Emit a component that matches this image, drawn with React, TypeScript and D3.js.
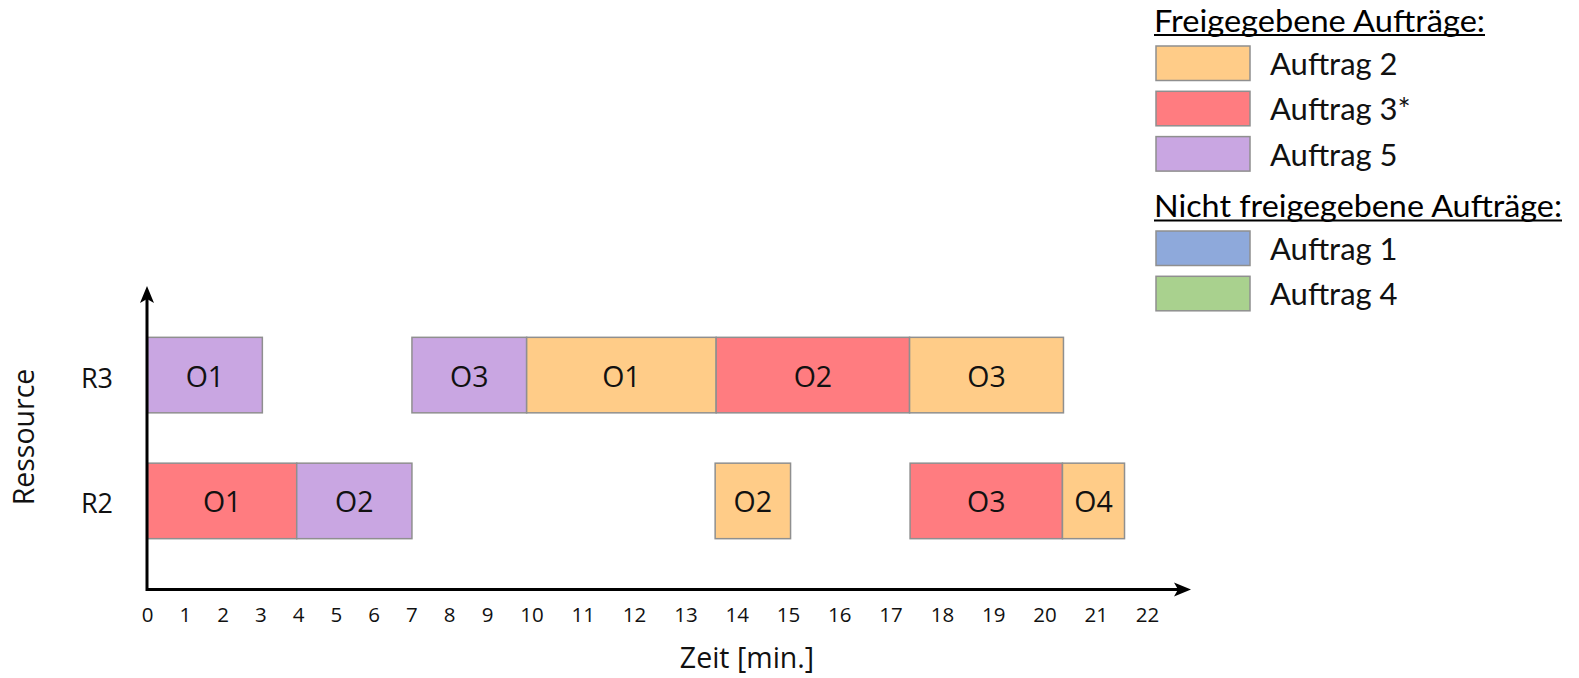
import React from "react";
import * as d3 from "d3";

// Schedule data: one entry per operation block
const resources = ["R3", "R2"];
const taskResource = ["R3", "R3", "R3", "R3", "R3", "R2", "R2", "R2", "R2", "R2"];
const taskLabel = ["O1", "O3", "O1", "O2", "O3", "O1", "O2", "O2", "O3", "O4"];
const taskOrder = [5, 5, 2, 3, 2, 3, 5, 2, 3, 2];
const taskStart = [0, 7, 9.88, 13.59, 17.36, 0, 3.95, 13.57, 17.37, 20.34];
const taskEnd = [3.04, 9.88, 13.59, 17.36, 20.36, 3.95, 7.0, 15.04, 20.34, 21.55];

// Time tick labels
const timeTicks = d3.range(0, 23);

// Legend
const releasedOrders = [2, 3, 5];
const releasedNames = ["Auftrag 2", "Auftrag 3*", "Auftrag 5"];
const pendingOrders = [1, 4];
const pendingNames = ["Auftrag 1", "Auftrag 4"];
const orderIds = [1, 2, 3, 4, 5];
const orderColors = ["#8EA9DB", "#FFCC88", "#FF7C80", "#A9D18E", "#C9A6E2"];

const W = 1579;
const H = 678;
const axisX = 147;
const axisY = 589.5;

const labelFont = "'Open Sans', 'Noto Sans', sans-serif";
const legendFont = "Lato, 'Open Sans', sans-serif";

export default function App() {
  // Tick labels are spaced wider for two-digit numbers, so the time scale is piecewise linear.
  const x = d3.scaleLinear().domain([0, 9, 10, 22]).range([147.5, 487.5, 532, 1147.6]);
  const y = d3.scaleBand<string>().domain(resources).range([287, 589]).paddingInner(0.4).paddingOuter(0.4);
  const color = d3.scaleOrdinal<number, string>().domain(orderIds).range(orderColors);

  const tasks = taskLabel.map((label, i) => ({
    label,
    res: taskResource[i],
    order: taskOrder[i],
    start: taskStart[i],
    end: taskEnd[i],
  }));

  const swatchX = 1156;
  const swatchW = 94;
  const swatchH = 34.5;
  const textX = 1270;
  const rowPitch = 45.3;
  const group1Top = 46;
  const group2Top = 231;

  const arrowRight = `M1191,${axisY} L1174,${axisY - 7} L1178,${axisY} L1174,${axisY + 7} Z`;
  const arrowUp = `M${axisX},286 L${axisX - 7},303 L${axisX},299 L${axisX + 7},303 Z`;

  return (
    <svg
      width={W}
      height={H}
      viewBox={`0 0 ${W} ${H}`}
      style={{ position: "absolute", left: 0, top: 0, background: "#fff" }}
    >
      {/* bars */}
      {tasks.map((t, i) => (
        <g key={i}>
          <rect
            x={x(t.start)}
            y={y(t.res)!}
            width={x(t.end) - x(t.start)}
            height={y.bandwidth()}
            fill={color(t.order)}
            stroke="#8f8f8f"
            strokeWidth={1.5}
          />
          <text
            x={(x(t.start) + x(t.end)) / 2}
            y={y(t.res)! + y.bandwidth() / 2 + 1.5}
            dy="0.35em"
            textAnchor="middle"
            fontFamily={labelFont}
            fontWeight={400}
            fontSize={28.5}
            fill="#111"
          >
            {t.label}
          </text>
        </g>
      ))}

      {/* axes */}
      <line x1={axisX} y1={axisY} x2={1180} y2={axisY} stroke="#000" strokeWidth={3} />
      <line x1={axisX} y1={axisY + 1.5} x2={axisX} y2={297} stroke="#000" strokeWidth={3} />
      <path d={arrowRight} fill="#000" />
      <path d={arrowUp} fill="#000" />

      {/* time ticks */}
      {timeTicks.map((v) => (
        <text
          key={v}
          x={x(v)}
          y={622}
          textAnchor="middle"
          fontFamily={labelFont}
          fontWeight={400}
          fontSize={20.5}
          fill="#111"
        >
          {v}
        </text>
      ))}

      {/* resource labels */}
      {resources.map((r) => (
        <text
          key={r}
          x={97}
          y={y(r)! + y.bandwidth() / 2 + 3}
          dy="0.35em"
          textAnchor="middle"
          fontFamily={labelFont}
          fontWeight={400}
          fontSize={27}
          fill="#111"
        >
          {r}
        </text>
      ))}

      <text
        x={747}
        y={668}
        textAnchor="middle"
        fontFamily={labelFont}
        fontWeight={400}
        fontSize={28.5}
        fill="#111"
      >
        Zeit [min.]
      </text>
      <text
        transform="translate(34,437) rotate(-90)"
        textAnchor="middle"
        fontFamily={labelFont}
        fontWeight={400}
        fontSize={28.5}
        fill="#111"
      >
        Ressource
      </text>

      {/* legend */}
      <text x={1154} y={31.5} fontFamily={legendFont} fontSize={31} fill="#000" textLength={331} lengthAdjust="spacingAndGlyphs">
        Freigegebene Aufträge:
      </text>
      <line x1={1154} x2={1485} y1={35} y2={35} stroke="#000" strokeWidth={2} />
      {releasedOrders.map((o, i) => (
        <g key={o}>
          <rect
            x={swatchX}
            y={group1Top + i * rowPitch}
            width={swatchW}
            height={swatchH}
            fill={color(o)}
            stroke="#8f8f8f"
            strokeWidth={1.5}
          />
          <text
            x={textX}
            y={group1Top + i * rowPitch + 29}
            fontFamily={legendFont}
            fontWeight={400}
            fontSize={31}
            fill="#111"
          >
            {releasedNames[i]}
          </text>
        </g>
      ))}

      <text x={1154} y={216.5} fontFamily={legendFont} fontSize={31} fill="#000" textLength={408} lengthAdjust="spacingAndGlyphs">
        Nicht freigegebene Aufträge:
      </text>
      <line x1={1154} x2={1562} y1={220.5} y2={220.5} stroke="#000" strokeWidth={2} />
      {pendingOrders.map((o, i) => (
        <g key={o}>
          <rect
            x={swatchX}
            y={group2Top + i * rowPitch}
            width={swatchW}
            height={swatchH}
            fill={color(o)}
            stroke="#8f8f8f"
            strokeWidth={1.5}
          />
          <text
            x={textX}
            y={group2Top + i * rowPitch + 29}
            fontFamily={legendFont}
            fontWeight={400}
            fontSize={31}
            fill="#111"
          >
            {pendingNames[i]}
          </text>
        </g>
      ))}
    </svg>
  );
}
